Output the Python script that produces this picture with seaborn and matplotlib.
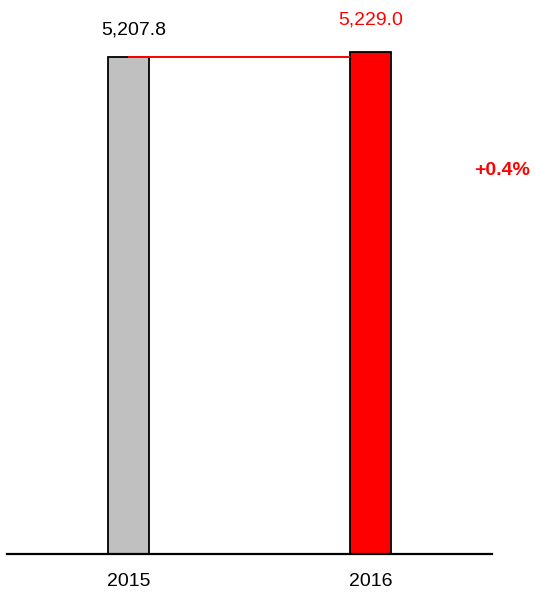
import matplotlib
matplotlib.use("Agg")
import matplotlib.pyplot as plt
import seaborn as sns
import pandas as pd

years = ["2015", "2016"]
values = [5207.8, 5229.0]
bar_colors = ["#C0C0C0", "#FF0000"]
label_colors = ["#000000", "#FF0000"]
change_label = "+0.4%"

sns.set_theme(style="white")
plt.rcParams["font.family"] = ["Liberation Sans", "DejaVu Sans"]

df = pd.DataFrame({"year": years, "value": values})

fig = plt.figure(figsize=(5.35, 5.98), dpi=100)
ax = fig.add_axes([7 / 535, 44 / 598, 485 / 535, 554 / 598])

sns.barplot(data=df, x="year", y="value", hue="year", palette=bar_colors,
            saturation=1, width=0.169, edgecolor="black", linewidth=1.3,
            legend=False, ax=ax, zorder=2)

ax.set_xlim(-0.5, 1.5)
ax.set_ylim(3390, 5418)

# connector from the first bar's top to the second bar
bar_half = 0.169 / 2
ax.plot([0, 1 - bar_half], [values[0], values[0]], color="#FF0000", lw=1.4,
        zorder=3, solid_capstyle="butt")

# value labels above the bars
offsets = [(4.3, 19.5), (0, 23.0)]
for i, (v, c, off) in enumerate(zip(values, label_colors, offsets)):
    ax.annotate(f"{v:,.1f}", xy=(i, v), xytext=off, textcoords="offset points",
                ha="center", va="center", fontsize=14, color=c)

fig.text(502 / 535, 1 - 171 / 598, change_label, ha="center", va="center",
         fontsize=14, fontweight="bold", color="#FF0000")

ax.set_xlabel("")
ax.set_ylabel("")
ax.set_yticks([])
ax.tick_params(axis="x", length=0, pad=13.5, labelsize=14, colors="black")
for s in ["top", "left", "right"]:
    ax.spines[s].set_visible(False)
ax.spines["bottom"].set_color("black")
ax.spines["bottom"].set_linewidth(1.6)
ax.patch.set_alpha(0)

fig.savefig("out.png", dpi=100)
